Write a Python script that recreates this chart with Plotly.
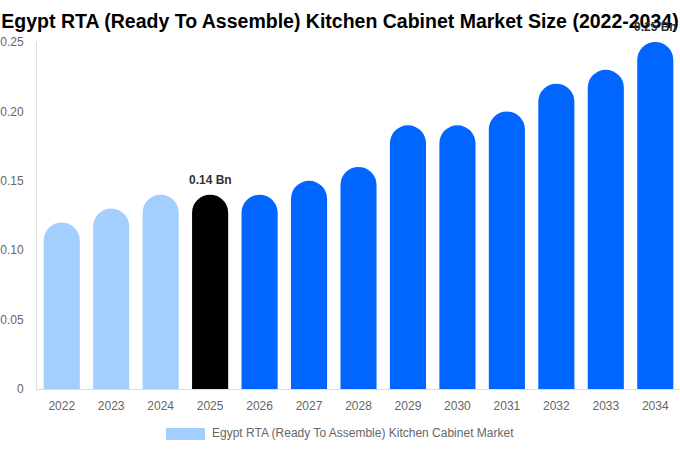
import plotly.graph_objects as go

years = ["2022", "2023", "2024", "2025", "2026", "2027", "2028",
         "2029", "2030", "2031", "2032", "2033", "2034"]
values = [0.12, 0.13, 0.14, 0.14, 0.14, 0.15, 0.16, 0.19, 0.19, 0.20, 0.22, 0.23, 0.25]
bar_colors = ["#a3cfff"] * 3 + ["#000000"] + ["#0066ff"] * 9
series_name = "Egypt RTA (Ready To Assemble) Kitchen Cabinet Market"
title_text = "Egypt RTA (Ready To Assemble) Kitchen Cabinet Market Size (2022-2034)"
label_years = ["2025", "2034"]
label_texts = ["0.14 Bn", "0.25 Bn"]
y_ticks = [0, 0.05, 0.10, 0.15, 0.20, 0.25]
y_tick_text = ["0", "0.05", "0.10", "0.15", "0.20", "0.25"]

W, H = 680, 450
ML, MR, MT, MB = 37, 0, 42, 61
PW, PH = W - ML - MR, H - MT - MB


def px_x(px):
    return (px - ML) / PW


def px_y(py):
    return (H - MB - py) / PH


fig = go.Figure()
fig.add_trace(go.Bar(
    x=years, y=values, name=series_name,
    marker=dict(color=bar_colors, line=dict(width=0)),
    showlegend=False,
))

for yr, txt in zip(label_years, label_texts):
    i = years.index(yr)
    fig.add_annotation(x=i, y=values[i], text="<b>" + txt + "</b>", showarrow=False,
                       yanchor="bottom", yshift=6,
                       font=dict(family="Liberation Sans, Arial", size=12, color="#333333"))

# custom legend swatch + label
fig.add_shape(type="rect", xref="paper", yref="paper",
              x0=px_x(166), x1=px_x(205), y0=px_y(440), y1=px_y(428),
              fillcolor="#a3cfff", line=dict(width=0))
fig.add_annotation(xref="paper", yref="paper", x=px_x(210), y=px_y(433),
                   xanchor="left", yanchor="middle", showarrow=False,
                   text=series_name,
                   font=dict(family="Liberation Sans, Arial", size=12, color="#666666"))

fig.update_layout(
    width=W, height=H,
    margin=dict(l=ML, r=MR, t=MT, b=MB, autoexpand=False),
    paper_bgcolor="white", plot_bgcolor="white",
    bargap=0.27,
    barcornerradius="50%",
    showlegend=False,
    title=dict(text="<b>" + title_text + "</b>", x=0.5, xanchor="center",
               y=1 - 21 / H, yanchor="middle",
               font=dict(family="Liberation Sans, Arial", size=19.5, color="#000000")),
    font=dict(family="Liberation Sans, Arial", size=12, color="#666666"),
    xaxis=dict(type="category", range=[-0.5, len(years) - 0.5], showgrid=False,
               showline=True, linecolor="#dddddd", linewidth=1, ticks="",
               tickfont=dict(size=12, color="#666666"), ticklabelstandoff=6),
    yaxis=dict(range=[0, 0.25], tickvals=y_ticks, ticktext=y_tick_text,
               showgrid=False, showline=True, linecolor="#dddddd", linewidth=1,
               zeroline=False, ticks="", tickfont=dict(size=12, color="#666666"),
               ticklabelstandoff=10),
)

fig.write_html(
    "out.html",
    config={"displayModeBar": False},
    post_script="document.body.style.margin='0';document.body.style.overflow='hidden';",
)
